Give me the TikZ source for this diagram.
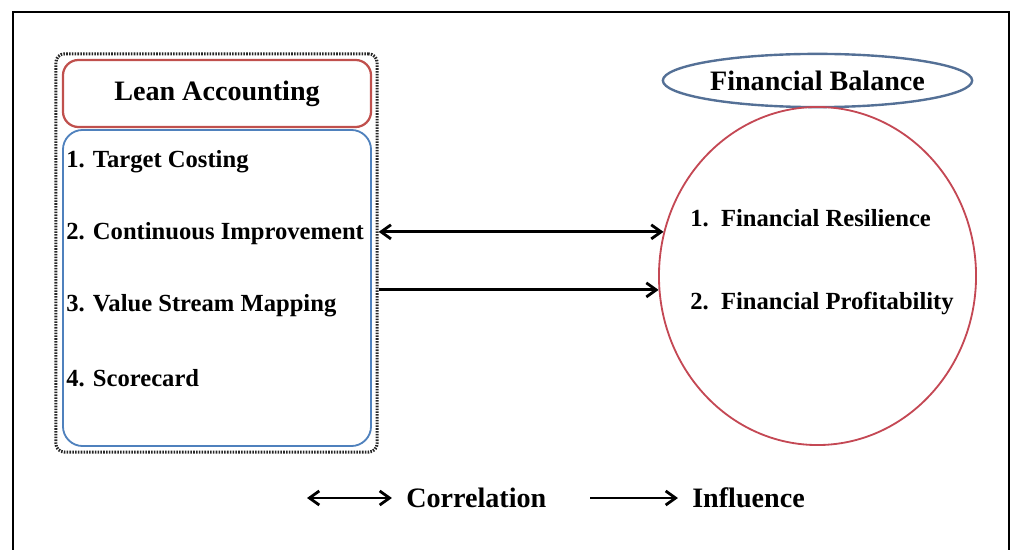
\documentclass[tikz,border=0pt]{standalone}
\usepackage{fontspec}
\setmainfont{Liberation Serif}
\usetikzlibrary{arrows.meta,positioning,shapes.geometric,calc}
\definecolor{leanred}{RGB}{192,80,77}
\definecolor{toolblue}{RGB}{79,129,189}
\definecolor{ovalblue}{RGB}{84,112,150}
\definecolor{circred}{RGB}{196,72,84}
\tikzset{
    frame line/.style={black,line width=1.1pt},
    group box/.style={draw=black!85,line width=2.2pt,dash pattern=on 1.1pt off 0.9pt,rounded corners=6pt,inner sep=0pt},
    head box/.style={draw=leanred,line width=1.6pt,rounded corners=11pt,inner sep=0pt},
    list box/.style={draw=toolblue,line width=1.3pt,rounded corners=14pt,inner sep=0pt},
    balance oval/.style={ellipse,draw=ovalblue,line width=1.7pt,inner sep=0pt},
    balance circle/.style={ellipse,draw=circred,line width=1.3pt,inner sep=0pt},
    item/.style={anchor=west,inner sep=0pt,font=\fontsize{17.5}{20}\selectfont\bfseries},
    heading/.style={font=\fontsize{20}{24}\selectfont\bfseries},
    legend/.style={anchor=west,inner sep=0pt,heading},
    arr/.style={line width=2pt,-{Straight Barb[length=7pt,width=10pt]}},
    corr/.style={arr,{Straight Barb[length=7pt,width=10pt]}-{Straight Barb[length=7pt,width=10pt]}},
    infl/.style={arr},
}

\begin{document}
\begin{tikzpicture}[x=0.025cm,y=-0.025cm]
    \useasboundingbox (0,0) rectangle (1012,550);
    \draw[frame line] (13,550) -- (13,12) -- (1009,12) -- (1009,550);

    % lean accounting side
    \node[group box,minimum width=8.03cm,minimum height=9.95cm] (group) at (216.5,253) {};
    \node[head box,heading,minimum width=7.7cm,minimum height=1.675cm] (lean) at (217,93.5) {Lean Accounting};
    \node[list box,minimum width=7.7cm,minimum height=7.9cm] (tools) at (217,288) {};
    \foreach \txt [count=\i] in {Target Costing,Continuous Improvement,Value Stream Mapping,Scorecard}
        \node[item] (tool\i) at (66,{90+\i*72}) {\i. \txt};

    % financial balance side
    \node[balance oval,heading,minimum width=7.73cm,minimum height=1.33cm] (balance) at (817.5,80.5) {Financial Balance};
    \node[balance circle,minimum width=7.925cm,minimum height=8.45cm] (fin) at (817.5,276) {};
    \node[item] (fin1) at (690,218) {1.\ \ Financial Resilience};
    \node[item] (fin2) at (690,303) {2.\ \ Financial Profitability};

    \draw[corr] (fin.164 -| group.east) -- (fin.164);
    \draw[infl] (fin.185 -| group.east) -- (fin.185);

    % legend
    \node[legend] (corr lbl) at (406,498) {Correlation};
    \node[legend] (infl lbl) at (692,498) {Influence};
    \coordinate (corr start) at (307,498);
    \coordinate (infl start) at (590,498);
    \draw[corr] (corr start) -- ([xshift=-10pt]corr lbl.west);
    \draw[infl] (infl start) -- ([xshift=-10pt]infl lbl.west);
\end{tikzpicture}
\end{document}
